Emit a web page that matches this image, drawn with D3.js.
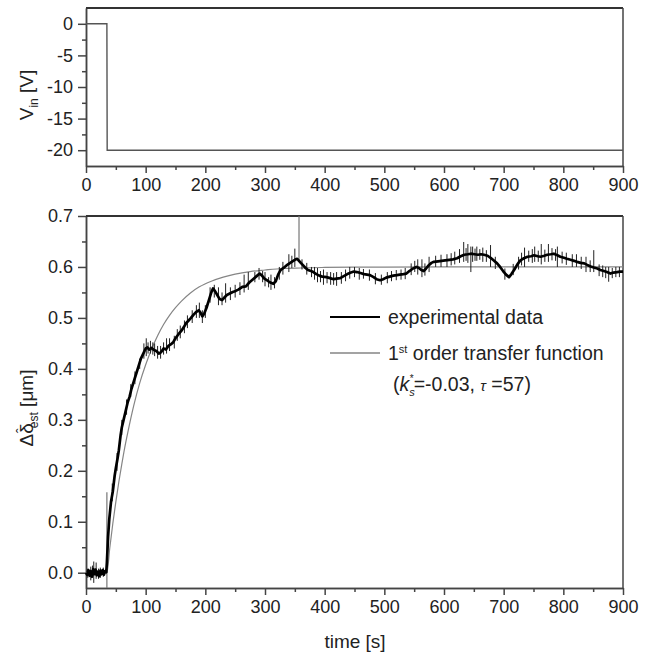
<!DOCTYPE html>
<html>
<head>
<meta charset="utf-8">
<script src="https://cdn.jsdelivr.net/npm/d3@7"></script>
<style>
  body { margin: 0; background: #fff; }
  svg { display: block; font-family: "Liberation Sans", Arial, sans-serif; }
  .axis path, .axis line { stroke: #444; stroke-width: 1.5; }
  .axis text { font-size: 18px; fill: #222; }
</style>
</head>
<body>
<div id="chart"></div>
<script>
// input voltage step (top panel)
const vinTime = [0, 35, 35.5, 900];
const vinValue = [0, 0, -20, -20];

const expData = [
  [0,0.000],[2,-0.004],[4,0.005],[6,-0.006],[8,0.003],[10,-0.008],[12,0.007],[14,-0.003],
  [16,0.006],[18,-0.005],[20,0.002],[22,-0.007],[24,0.004],[26,-0.003],[28,0.005],[30,-0.004],
  [32,0.003],[34,0.001],[35,0.02],[37,0.07],[39,0.105],[42,0.14],[45,0.16],[48,0.19],
  [50,0.205],[53,0.225],[55,0.24],[58,0.27],[60,0.285],[63,0.30],[66,0.315],[70,0.335],
  [73,0.345],[76,0.36],[80,0.375],[84,0.39],[88,0.405],[92,0.42],[96,0.43],[100,0.44],
  [103,0.442],[106,0.438],[110,0.441],[114,0.437],[118,0.435],[122,0.43],[126,0.433],[130,0.44],
  [134,0.438],[138,0.445],[142,0.448],[146,0.452],[150,0.46],[155,0.468],[160,0.475],[164,0.482],
  [168,0.49],[172,0.495],[176,0.50],[180,0.506],[185,0.512],[189,0.515],[192,0.51],[195,0.503],
  [198,0.508],[202,0.52],[206,0.535],[210,0.55],[213,0.558],[216,0.553],[220,0.545],[224,0.537],
  [228,0.535],[232,0.54],[236,0.545],[241,0.548],[246,0.551],[251,0.553],[256,0.556],[262,0.561],
  [268,0.562],[274,0.57],[280,0.576],[286,0.582],[291,0.587],[295,0.583],[299,0.577],[303,0.574],
  [308,0.57],[314,0.567],[318,0.572],[322,0.585],[326,0.594],[331,0.598],[336,0.603],[341,0.607],
  [346,0.611],[350,0.614],[354,0.616],[357,0.612],[360,0.608],[364,0.603],[368,0.598],[372,0.594],
  [377,0.592],[381,0.590],[386,0.586],[391,0.583],[396,0.581],[403,0.580],[409,0.578],[415,0.576],
  [420,0.577],[426,0.578],[432,0.582],[438,0.586],[444,0.589],[449,0.591],[454,0.590],[460,0.588],
  [466,0.586],[471,0.585],[476,0.584],[482,0.580],[487,0.576],[493,0.574],[498,0.576],[503,0.579],
  [509,0.581],[515,0.583],[521,0.584],[526,0.585],[532,0.586],[537,0.587],[542,0.592],[548,0.597],
  [554,0.600],[558,0.598],[562,0.594],[566,0.592],[570,0.597],[575,0.604],[579,0.608],[583,0.610],
  [590,0.611],[596,0.612],[602,0.613],[609,0.614],[615,0.615],[622,0.617],[628,0.621],[634,0.624],
  [640,0.625],[645,0.626],[651,0.625],[657,0.624],[662,0.625],[667,0.624],[673,0.622],[678,0.618],
  [683,0.613],[689,0.607],[694,0.600],[699,0.592],[704,0.585],[709,0.580],[713,0.586],[718,0.595],
  [723,0.605],[728,0.613],[734,0.617],[740,0.62],[746,0.621],[751,0.623],[757,0.621],[762,0.62],
  [768,0.622],[773,0.624],[779,0.625],[784,0.626],[790,0.623],[795,0.62],[801,0.618],[806,0.616],
  [812,0.614],[818,0.612],[823,0.610],[829,0.608],[835,0.607],[840,0.604],[846,0.601],[851,0.599],
  [857,0.597],[862,0.594],[868,0.592],[873,0.590],[879,0.587],[884,0.589],[890,0.590],[895,0.591],
  [900,0.591]
];

// noise spikes seen on the trace [t, low, high]
const expSpikes = [
  [3,-0.01,0.008],[8,-0.015,0.012],[11,-0.008,0.014],[13,-0.02,0.022],[17,-0.012,0.02],
  [21,-0.012,0.008],[24,-0.01,0.01],[29,-0.008,0.01],
  [44,0.14,0.175],[52,0.2,0.235],[60,0.27,0.30],[68,0.31,0.34],[75,0.345,0.37],[82,0.37,0.395],
  [90,0.40,0.42],[97,0.42,0.45],
  [101,0.425,0.46],[104,0.43,0.452],[108,0.43,0.455],[112,0.428,0.452],[115,0.425,0.45],
  [120,0.42,0.445],[125,0.42,0.445],[130,0.428,0.452],[135,0.43,0.46],[140,0.435,0.46],
  [148,0.44,0.465],[153,0.455,0.478],[158,0.46,0.485],[165,0.47,0.495],[170,0.48,0.505],
  [178,0.49,0.515],[185,0.50,0.525],[190,0.5,0.53],[195,0.49,0.515],[200,0.5,0.525],
  [208,0.53,0.56],[215,0.54,0.565],[222,0.525,0.56],[228,0.525,0.55],[234,0.53,0.568],
  [242,0.535,0.56],[250,0.54,0.565],[258,0.545,0.57],[265,0.55,0.585],[272,0.555,0.59],
  [283,0.57,0.59],[290,0.575,0.598],[296,0.57,0.592],[300,0.562,0.59],[306,0.56,0.58],
  [310,0.555,0.585],[316,0.558,0.58],[324,0.575,0.6],[330,0.585,0.61],[340,0.59,0.625],
  [345,0.598,0.622],[350,0.60,0.636],[362,0.595,0.615],[370,0.585,0.608],[378,0.58,0.6],
  [383,0.575,0.6],[388,0.57,0.598],[393,0.57,0.592],[398,0.565,0.595],[404,0.568,0.59],
  [410,0.565,0.59],[415,0.565,0.588],[420,0.563,0.59],[428,0.567,0.59],[435,0.572,0.595],
  [442,0.577,0.6],[450,0.58,0.6],[458,0.575,0.598],[465,0.577,0.596],[475,0.573,0.595],
  [485,0.566,0.588],[495,0.565,0.585],[505,0.568,0.59],[512,0.572,0.592],[520,0.574,0.594],
  [528,0.575,0.595],[535,0.576,0.598],[545,0.584,0.607],[551,0.59,0.612],[556,0.585,0.615],
  [563,0.58,0.615],[568,0.583,0.607],[575,0.59,0.62],[586,0.6,0.622],[595,0.6,0.624],
  [605,0.60,0.625],[612,0.603,0.627],[618,0.605,0.63],[626,0.608,0.635],[633,0.61,0.649],
  [637,0.612,0.637],[640,0.608,0.645],[645,0.59,0.64],[648,0.61,0.64],[652,0.612,0.636],
  [655,0.612,0.64],[660,0.614,0.635],[665,0.61,0.638],[671,0.61,0.633],[678,0.60,0.643],
  [686,0.596,0.62],[702,0.575,0.597],[716,0.584,0.606],[725,0.595,0.62],[730,0.603,0.628],
  [735,0.60,0.638],[742,0.61,0.632],[748,0.608,0.635],[752,0.61,0.64],[758,0.61,0.632],
  [763,0.605,0.645],[769,0.61,0.634],[775,0.61,0.645],[781,0.613,0.637],[787,0.612,0.635],
  [790,0.60,0.64],[798,0.607,0.63],[805,0.604,0.628],[815,0.6,0.625],[822,0.60,0.625],
  [830,0.596,0.62],[838,0.59,0.62],[845,0.59,0.613],[851,0.59,0.633],[860,0.582,0.605],
  [866,0.58,0.603],[871,0.578,0.6],[876,0.571,0.60],[882,0.578,0.598],[888,0.58,0.6],
  [894,0.58,0.6]
];

// two isolated gray glitches [t, low, high]
const glitches = [[35,-0.03,0.158],[357,0.612,0.7]];

// first order transfer function (k=-0.03, tau=57)
const fitTime  = [0, 35, 40, 45, 50, 55, 60, 65, 70, 80, 90, 100, 110, 120, 130, 140, 150, 160,
                  175, 190, 210, 230, 250, 275, 300, 330, 360, 400, 450, 500, 600, 900];
const fitValue = [0, 0, 0.050, 0.097, 0.139, 0.178, 0.213, 0.246, 0.275, 0.328, 0.372, 0.408,
                  0.439, 0.465, 0.487, 0.505, 0.520, 0.533, 0.549, 0.561, 0.572, 0.580, 0.586,
                  0.591, 0.594, 0.597, 0.598, 0.599, 0.5996, 0.5998, 0.6, 0.6];

const topTicks = [0, -5, -10, -15, -20];
const botTicks = [0, 0.1, 0.2, 0.3, 0.4, 0.5, 0.6, 0.7];
const timeTicks = [0, 100, 200, 300, 400, 500, 600, 700, 800, 900];

const W = 650, H = 657;
const left = 86, right = 623;

const svg = d3.select("#chart").append("svg")
  .attr("width", W)
  .attr("height", H);

const x = d3.scaleLinear().domain([0, 900]).range([left, right]);
const yTop = d3.scaleLinear().domain([-22.5, 2.5]).range([166, 8]);
const yBot = d3.scaleLinear().domain([-0.03, 0.7]).range([588, 216]);

// draw one panel frame with axes
function drawAxes(y, ticks, minorTicks, fmt) {
  const [y0, y1] = y.range(); // bottom, top
  svg.append("g").attr("class", "axis")
    .attr("transform", `translate(0,${y0})`)
    .call(d3.axisBottom(x).tickValues(timeTicks).tickSize(7).tickPadding(5).tickSizeOuter(0));
  svg.append("g").attr("class", "axis")
    .attr("transform", `translate(0,${y0})`)
    .call(d3.axisBottom(x).tickValues(d3.range(50, 900, 100)).tickSize(4).tickFormat("").tickSizeOuter(0));
  svg.append("g").attr("class", "axis")
    .attr("transform", `translate(${left},0)`)
    .call(d3.axisLeft(y).tickValues(ticks).tickSize(8).tickPadding(5).tickFormat(fmt).tickSizeOuter(0));
  svg.append("g").attr("class", "axis")
    .attr("transform", `translate(${left},0)`)
    .call(d3.axisLeft(y).tickValues(minorTicks).tickSize(4).tickFormat("").tickSizeOuter(0));
  // top and right border
  svg.append("line").attr("x1", left).attr("x2", right).attr("y1", y1).attr("y2", y1)
    .attr("stroke", "#333").attr("stroke-width", 2);
  svg.append("line").attr("x1", right).attr("x2", right).attr("y1", y1).attr("y2", y0)
    .attr("stroke", "#444").attr("stroke-width", 1.5);
}

drawAxes(yTop, topTicks, [-2.5, -7.5, -12.5, -17.5], d3.format("d"));
drawAxes(yBot, botTicks, [0.05, 0.15, 0.25, 0.35, 0.45, 0.55, 0.65], d3.format(".1f"));

// plain hyphen for negatives, like the original
svg.selectAll(".axis text").text(function() { return this.textContent.replace("−", "-"); });

// top panel line
const vinLine = d3.line().x((d, i) => x(vinTime[i])).y(d => yTop(d));
svg.append("path")
  .datum(vinValue)
  .attr("d", vinLine)
  .attr("fill", "none")
  .attr("stroke", "#555")
  .attr("stroke-width", 1.4);

// bottom panel: fit curve
const fitLine = d3.line().x((d, i) => x(fitTime[i])).y(d => yBot(d)).curve(d3.curveMonotoneX);
svg.append("path")
  .datum(fitValue)
  .attr("d", fitLine)
  .attr("fill", "none")
  .attr("stroke", "#858585")
  .attr("stroke-width", 1.2);

// glitches
svg.selectAll(".glitch")
  .data(glitches)
  .join("line")
  .attr("class", "glitch")
  .attr("x1", d => x(d[0])).attr("x2", d => x(d[0]))
  .attr("y1", d => yBot(d[1])).attr("y2", d => yBot(d[2]))
  .attr("stroke", "#777")
  .attr("stroke-width", 1.2);

// spikes
svg.selectAll(".spike")
  .data(expSpikes)
  .join("line")
  .attr("class", "spike")
  .attr("x1", d => x(d[0])).attr("x2", d => x(d[0]))
  .attr("y1", d => yBot(d[1])).attr("y2", d => yBot(d[2]))
  .attr("stroke", "#222")
  .attr("stroke-width", 1);

// experimental trace
const expLine = d3.line().x(d => x(d[0])).y(d => yBot(d[1]));
svg.append("path")
  .datum(expData)
  .attr("d", expLine)
  .attr("fill", "none")
  .attr("stroke", "#000")
  .attr("stroke-width", 2.7)
  .attr("stroke-linejoin", "round");

// legend
const lg = svg.append("g").style("font-size", "19.5px").attr("fill", "#222");
lg.append("line").attr("x1", 330).attr("x2", 380).attr("y1", 317).attr("y2", 317)
  .attr("stroke", "#000").attr("stroke-width", 2.2);
lg.append("text").attr("x", 388).attr("y", 324).text("experimental data");
lg.append("line").attr("x1", 330).attr("x2", 380).attr("y1", 353).attr("y2", 353)
  .attr("stroke", "#858585").attr("stroke-width", 1.3);
const t2 = lg.append("text").attr("x", 388).attr("y", 360);
t2.append("tspan").text("1");
t2.append("tspan").attr("dy", -7).style("font-size", "11px").text("st");
t2.append("tspan").attr("dy", 7).text(" order transfer function");
const t3 = lg.append("text").attr("x", 393).attr("y", 391);
t3.append("tspan").text("(");
t3.append("tspan").style("font-style", "italic").text("k");
t3.append("tspan").attr("dy", 5).style("font-size", "11px").style("font-style", "italic").text("s");
t3.append("tspan").attr("dx", -5).attr("dy", -14).style("font-size", "10px").text("*");
t3.append("tspan").attr("dy", 9).text("=-0.03, ");
t3.append("tspan").style("font-style", "italic").style("font-size", "15px").text("τ");
t3.append("tspan").text(" =57)");

// axis titles
svg.append("text")
  .attr("transform", "translate(33,95) rotate(-90)")
  .attr("text-anchor", "middle")
  .style("font-size", "19px").attr("fill", "#222")
  .call(t => {
    t.append("tspan").text("V");
    t.append("tspan").attr("dy", 5).style("font-size", "12px").text("in");
    t.append("tspan").attr("dy", -5).text(" [V]");
  });

svg.append("text")
  .attr("transform", "translate(33,408) rotate(-90)")
  .attr("text-anchor", "middle")
  .style("font-size", "19px").attr("fill", "#222")
  .call(t => {
    t.append("tspan").text("Δδ");
    t.append("tspan").attr("dx", -10).attr("dy", -6).style("font-size", "15px").text("ˆ");
    t.append("tspan").attr("dx", 0).attr("dy", 11).style("font-size", "12px").text("est");
    t.append("tspan").attr("dy", -5).text(" [μm]");
  });

svg.append("text")
  .attr("x", 355).attr("y", 648)
  .attr("text-anchor", "middle")
  .style("font-size", "19px").attr("fill", "#222")
  .text("time [s]");
</script>
</body>
</html>
